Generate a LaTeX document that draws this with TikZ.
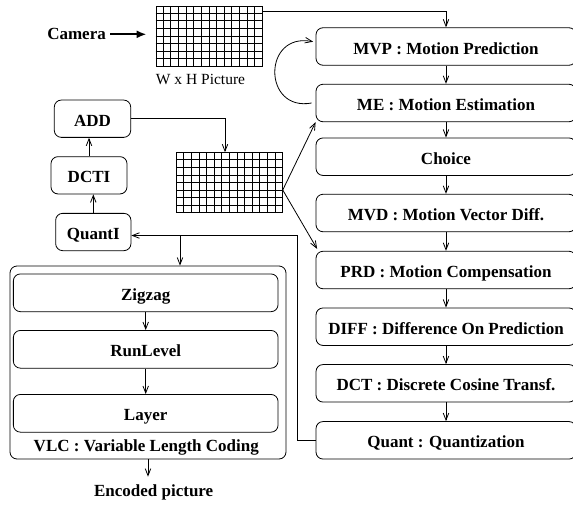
\documentclass[tikz,border=0pt]{standalone}
\usepackage{fontspec}
\setmainfont{Liberation Serif}
\usetikzlibrary{arrows.meta,calc}

\tikzset{
  lbl/.style={inner sep=0pt, font=\fontsize{17}{20}\selectfont\bfseries},
  blk/.style={draw, rounded corners=7pt, line width=0.8pt, inner sep=0pt,
    font=\fontsize{17}{20}\selectfont\bfseries, text height=15pt, text depth=0pt},
  wide/.style={blk, minimum width=260pt, minimum height=37.5pt},
  frame/.style={draw, rounded corners=7pt, line width=0.8pt, inner sep=0pt},
  picgrid/.style={draw, line width=0.9pt, inner sep=0pt, minimum height=60pt},
  gl/.style={line width=0.9pt},
  arr/.style={line width=0.8pt, -{Straight Barb[length=7pt,width=5.5pt]}},
  camarr/.style={line width=2.2pt, -{Latex[length=10pt,width=8pt]}}
}

\begin{document}
\begin{tikzpicture}[x=1pt,y=-1pt]
\useasboundingbox (0,0) rectangle (573,504);
\clip (0,0) rectangle (573,504);

% input frame and camera
\node[lbl, anchor=east] (CAM) at (106,34.3) {Camera};
\node[picgrid, minimum width=106pt] (g1) at (209,36) {};
\node[inner sep=0pt, font=\fontsize{15.5}{18}\selectfont, anchor=base] (WH) at (200.5,84.3) {W x H Picture};

% reconstructed frame
\node[picgrid, minimum width=105.6pt] (g2) at (229.5,182.7) {};

\foreach \g in {g1,g2} {
  \foreach \i in {1,...,13}
    \draw[gl] ($(\g.south west)!\i/14!(\g.south east)$) -- ($(\g.north west)!\i/14!(\g.north east)$);
  \foreach \j in {1,...,7}
    \draw[gl] ($(\g.south west)!\j/8!(\g.north west)$) -- ($(\g.south east)!\j/8!(\g.north east)$);
}

% encoder pipeline
\node[wide] (MVP)  at (446,46.5)  {MVP : Motion Prediction};
\node[wide] (ME)   at (446,103)   {ME : Motion Estimation};
\node[wide] (CH)   at (446,156.7) {Choice};
\node[wide] (MVD)  at (446,213)   {MVD : Motion Vector Diff.};
\node[wide] (PRD)  at (446,270)   {PRD : Motion Compensation};
\node[wide] (DIFF) at (446,326.7) {DIFF : Difference On Prediction};
\node[wide] (DCT)  at (446,383.3) {DCT : Discrete Cosine Transf.};
\node[wide] (Q)    at (446,440.3) {Quant : Quantization};

% reconstruction loop
\node[blk, minimum width=76.4pt, minimum height=37.3pt] (ADD)  at (92.5,118.7) {ADD};
\node[blk, minimum width=76pt,   minimum height=37.3pt] (DCTI) at (89,175.3)   {DCTI};
\node[blk, minimum width=75.3pt, minimum height=37.3pt] (QI)   at (93.3,232)   {QuantI};

% variable length coding
\node[frame, minimum width=276pt, minimum height=193pt] (VLC) at (148,362.5) {};
\node[blk, minimum width=264.7pt, minimum height=37.7pt] (ZZ) at (145.7,292.8) {Zigzag};
\node[blk, minimum width=264.7pt, minimum height=37.7pt] (RL) at (145.7,349.3) {RunLevel};
\node[blk, minimum width=264.7pt, minimum height=37.7pt] (LY) at (145.7,413.3) {Layer};
\node[lbl, anchor=base] (VLCt) at (146.3,451.7) {VLC : Variable Length Coding};
\node[lbl, anchor=base] (ENC) at (153.7,496.7) {Encoded picture};

% connectors
\draw[camarr] ([xshift=4pt]CAM.east) -- ([xshift=-9pt]CAM.east -| g1.west);
\draw[arr] ([yshift=-6pt]g1.north east) -| (MVP.north);
\draw[arr] (MVP.south) -- (ME.north);
\draw[arr] (ME.south) -- (CH.north);
\draw[arr] (CH.south) -- (MVD.north);
\draw[arr] (MVD.south) -- (PRD.north);
\draw[arr] (PRD.south) -- (DIFF.north);
\draw[arr] (DIFF.south) -- (DCT.north);
\draw[arr] (DCT.south) -- (Q.north);
\draw[arr] ([xshift=-4pt]ME.west) .. controls (262.5,112) and (262.5,32) .. ([xshift=-2.5pt,yshift=4.8pt]MVP.west);

\coordinate (gp) at ([yshift=-7.3pt]g2.east);
\draw[arr] (gp) -- (ME.south west);
\draw[arr] (gp) -- ([xshift=1.5pt,yshift=2pt]PRD.north west);

\coordinate (fb) at (297.5,235.5);
\coordinate (br) at (180,235.5);
\draw[line width=0.8pt] (Q.west) -| (fb);
\draw[arr] (fb) -- (QI.east |- fb);
\draw[arr] (br) -- (br |- VLC.north);

\draw[arr] (QI.north) -- (QI.north |- DCTI.south);
\draw[arr] (DCTI.north) -- (DCTI.north |- ADD.south);
\draw[arr] (ADD.east) -| ([xshift=-4.5pt]g2.north);

\draw[arr] (ZZ.south) -- (RL.north);
\draw[arr] (RL.south) -- (LY.north);
\draw[arr] (VLC.south) -- ([yshift=8pt]VLC.south |- ENC.north);
\end{tikzpicture}
\end{document}
